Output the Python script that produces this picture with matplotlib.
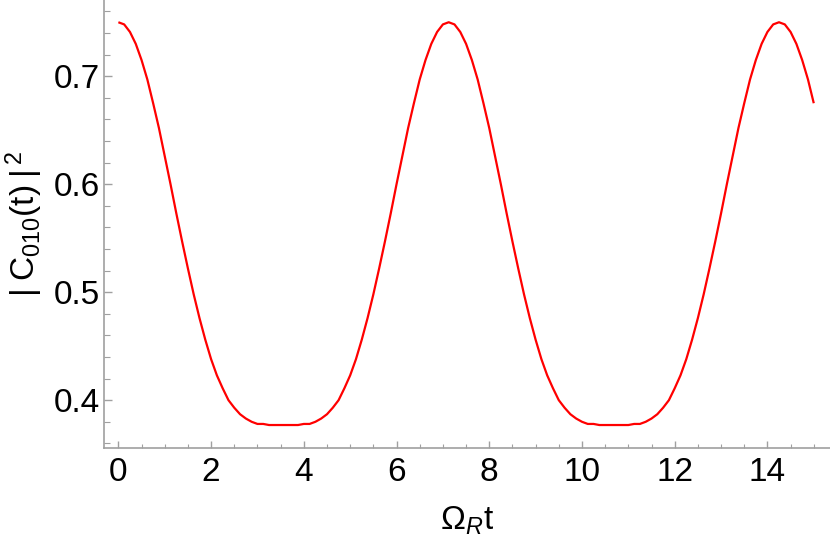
import numpy as np
import matplotlib.pyplot as plt

plt.rcParams['font.family'] = ['Liberation Sans', 'DejaVu Sans']
plt.rcParams['mathtext.fontset'] = 'custom'
plt.rcParams['mathtext.rm'] = 'Liberation Sans'
plt.rcParams['mathtext.it'] = 'Liberation Sans:italic'

# sample times, step 0.125 from 0 to 15
t = np.arange(121) * 0.125

# |C010(t)|^2
pop = [0.750, 0.748, 0.741, 0.730, 0.715, 0.697, 0.675, 0.652, 0.626, 0.600,
       0.573, 0.547, 0.522, 0.498, 0.476, 0.456, 0.438, 0.423, 0.411, 0.400,
       0.393, 0.387, 0.383, 0.380, 0.378, 0.378, 0.377, 0.377, 0.377,
       0.377, 0.377, 0.377, 0.378, 0.378, 0.380, 0.383, 0.387, 0.393, 0.400,
       0.411, 0.423, 0.438, 0.456, 0.476, 0.498, 0.522, 0.547, 0.573, 0.600,
       0.626, 0.652, 0.675, 0.697, 0.715, 0.730, 0.741, 0.748, 0.750,
       0.748, 0.741, 0.730, 0.715, 0.697, 0.675, 0.652, 0.626, 0.600,
       0.573, 0.547, 0.522, 0.498, 0.476, 0.456, 0.438, 0.423, 0.411, 0.400,
       0.393, 0.387, 0.383, 0.380, 0.378, 0.378, 0.377, 0.377, 0.377,
       0.377, 0.377, 0.377, 0.378, 0.378, 0.380, 0.383, 0.387, 0.393, 0.400,
       0.411, 0.423, 0.438, 0.456, 0.476, 0.498, 0.522, 0.547, 0.573, 0.600,
       0.626, 0.652, 0.675, 0.697, 0.715, 0.730, 0.741, 0.748, 0.750,
       0.748, 0.741, 0.730, 0.715, 0.697, 0.675]

xticks = [0, 2, 4, 6, 8, 10, 12, 14]
yticks = [0.4, 0.5, 0.6, 0.7]

fig = plt.figure(figsize=(8.3, 5.41), dpi=100)
ax = fig.add_axes([104/830, 93.3/541, 726/830, 447.7/541])

ax.plot(t, pop, color='#ff0000', lw=1.6, clip_on=False,
        solid_joinstyle='round', solid_capstyle='butt')

ax.set_xlim(-0.31, 15.35)
ax.set_ylim(0.356, 0.7706)
ax.set_xticks(xticks)
ax.set_yticks(yticks)
ax.set_xticklabels([str(v) for v in xticks])
ax.set_yticklabels([f'{v:.1f}' for v in yticks])
ax.set_xticks(np.arange(0, 15.5, 0.5), minor=True)
ax.set_yticks(np.arange(0.36, 0.77, 0.02), minor=True)

gray = '#a0a0a0'
for s in ['top', 'right']:
    ax.spines[s].set_visible(False)
for s in ['left', 'bottom']:
    ax.spines[s].set_color(gray)
    ax.spines[s].set_linewidth(1.2)

ax.tick_params(which='both', direction='in', color=gray, labelsize=24)
ax.tick_params(axis='x', which='major', length=5, width=1, pad=7)
ax.tick_params(axis='x', which='minor', length=3, width=0.8)
ax.tick_params(axis='y', which='major', length=6, width=1, pad=3)
ax.tick_params(axis='y', which='minor', length=4, width=0.8)

ax.set_xlabel(r'$\Omega_{R}\mathrm{t}$', fontsize=24, labelpad=12)
ax.set_ylabel(r'$|\;\mathrm{C}_{010}(\mathrm{t})\;|^{\,2}$', fontsize=24, labelpad=6)

fig.savefig('out.png', dpi=100)
